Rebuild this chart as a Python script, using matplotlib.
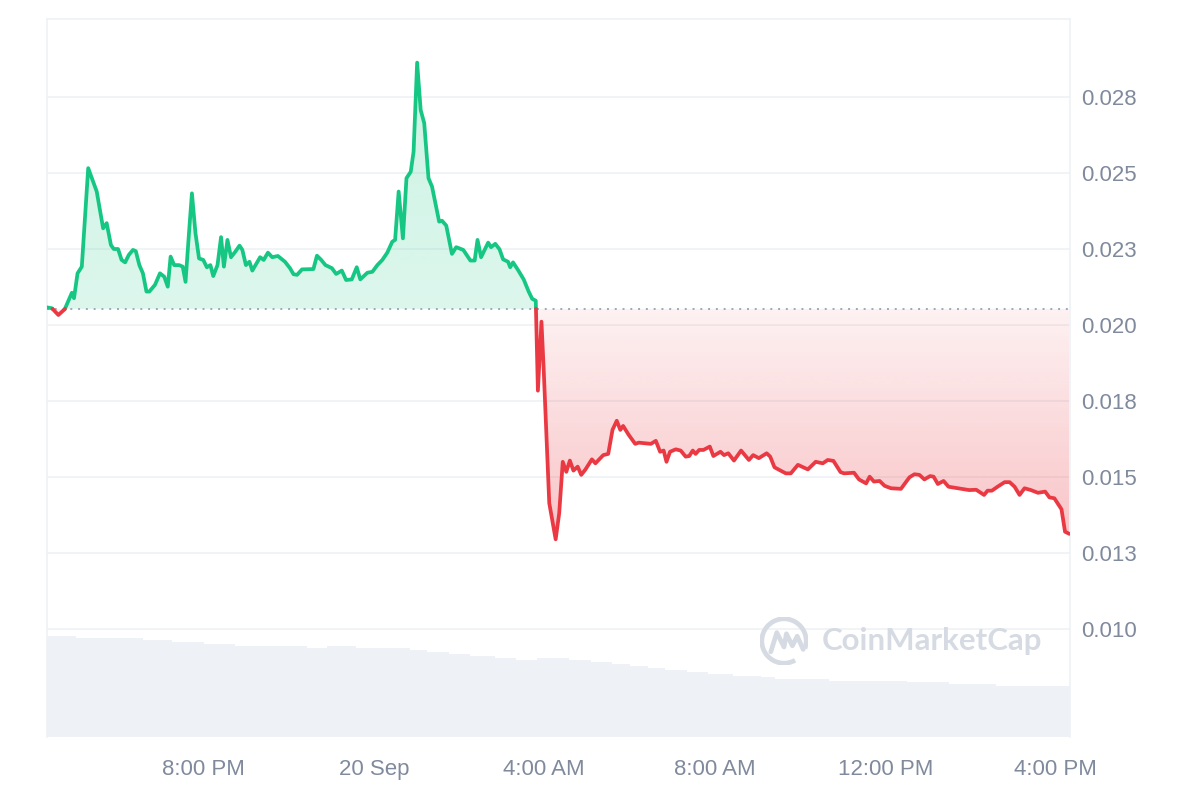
import numpy as np
import pandas as pd
import matplotlib
matplotlib.use("Agg")
import matplotlib.pyplot as plt
import matplotlib.dates as mdates
from matplotlib.path import Path
from matplotlib.patches import PathPatch, Arc
from matplotlib.colors import to_rgb

# Preisverlauf: Minuten ab Start (19 Sep 16:20) und Preis in USD
minutes = [0, 7, 16, 25, 35, 38, 43, 49, 58, 70, 79, 84, 90, 94, 100, 105, 110, 115, 121, 125,
           130, 135, 140, 144, 152, 159, 165, 170, 174, 179, 186, 191, 195, 200, 204, 209, 214,
           220, 225, 230, 234, 240, 245, 249, 254, 259, 265, 271, 275, 280, 285, 289, 300, 305,
           311, 317, 325, 335, 342, 347, 352, 359, 375, 380, 386, 392, 401, 407, 415, 421, 429,
           436, 441, 451, 458, 465, 472, 479, 486, 490, 495, 501, 506, 512, 516, 521, 526, 531,
           537, 542, 552, 556, 562, 570, 576, 586, 596, 602, 606, 611, 621, 625, 631, 637, 642,
           649, 652, 656, 663, 671, 678, 683, 688, 691, 696, 699, 707, 716, 721, 726, 731, 736,
           741, 747, 752, 758, 767, 772, 783, 790, 796, 802, 807, 811, 819, 828, 833, 850, 857,
           863, 868, 872, 877, 885, 892, 899, 904, 909, 913, 918, 924, 933, 938, 948, 953, 959,
           967, 977, 988, 994, 1002, 1013, 1018, 1024, 1031, 1040, 1047, 1057, 1071, 1082, 1092,
           1099, 1107, 1117, 1122, 1136, 1143, 1153, 1158, 1164, 1172, 1179, 1188, 1202, 1214,
           1221, 1228, 1235, 1243, 1248, 1254, 1262, 1269, 1277, 1287, 1298, 1308, 1319, 1324,
           1330, 1338, 1348, 1355, 1362, 1369, 1376, 1385, 1395, 1405, 1411, 1418, 1428, 1433,
           1439]
price = [0.02058, 0.02055, 0.02033, 0.02052, 0.02106, 0.02088, 0.02170, 0.02192, 0.02516,
         0.02439, 0.02318, 0.02335, 0.02263, 0.02250, 0.02250, 0.02214, 0.02206, 0.02230,
         0.02247, 0.02243, 0.02197, 0.02170, 0.02110, 0.02110, 0.02132, 0.02170, 0.02159,
         0.02126, 0.02225, 0.02197, 0.02197, 0.02192, 0.02142, 0.02307, 0.02433, 0.02302,
         0.02219, 0.02214, 0.02190, 0.02197, 0.02161, 0.02197, 0.02289, 0.02192, 0.02280,
         0.02223, 0.02241, 0.02261, 0.02247, 0.02197, 0.02208, 0.02179, 0.02223, 0.02214,
         0.02238, 0.02223, 0.02227, 0.02208, 0.02187, 0.02167, 0.02165, 0.02183, 0.02184,
         0.02228, 0.02214, 0.02197, 0.02187, 0.02168, 0.02179, 0.02148, 0.02150, 0.02190,
         0.02150, 0.02172, 0.02175, 0.02197, 0.02214, 0.02238, 0.02274, 0.02280, 0.02439,
         0.02285, 0.02483, 0.02504, 0.02570, 0.02863, 0.02707, 0.02664, 0.02483, 0.02455,
         0.02340, 0.02343, 0.02327, 0.02234, 0.02256, 0.02247, 0.02212, 0.02212, 0.02280,
         0.02223, 0.02271, 0.02256, 0.02267, 0.02249, 0.02216, 0.02208, 0.02190, 0.02206,
         0.02181, 0.02150, 0.02110, 0.02086, 0.02080, 0.01784, 0.02011, 0.01863, 0.01414,
         0.01295, 0.01381, 0.01550, 0.01517, 0.01554, 0.01521, 0.01534, 0.01507, 0.01525,
         0.01558, 0.01545, 0.01572, 0.01576, 0.01655, 0.01685, 0.01655, 0.01668, 0.01638,
         0.01609, 0.01613, 0.01609, 0.01619, 0.01583, 0.01587, 0.01550, 0.01583, 0.01591,
         0.01587, 0.01567, 0.01569, 0.01587, 0.01576, 0.01589, 0.01589, 0.01600, 0.01569,
         0.01583, 0.01572, 0.01578, 0.01554, 0.01587, 0.01556, 0.01572, 0.01562, 0.01578,
         0.01567, 0.01532, 0.01523, 0.01512, 0.01512, 0.01540, 0.01525, 0.01550, 0.01545,
         0.01556, 0.01553, 0.01516, 0.01512, 0.01514, 0.01492, 0.01479, 0.01501, 0.01485,
         0.01487, 0.01471, 0.01463, 0.01461, 0.01499, 0.01509, 0.01507, 0.01492, 0.01503,
         0.01501, 0.01477, 0.01487, 0.01468, 0.01465, 0.01461, 0.01457, 0.01458, 0.01441,
         0.01455, 0.01455, 0.01468, 0.01483, 0.01483, 0.01468, 0.01441, 0.01463, 0.01457,
         0.01448, 0.01452, 0.01433, 0.01430, 0.01394, 0.01320, 0.01313]
open_price = 0.02053

# Volumen (24h, gleitend) als Treppenstufen: Ende der Stufe in Minuten und Hoehe
vol_step_end = [37, 135, 171, 220, 262, 362, 393, 431, 507, 533, 564, 593, 629, 658, 689, 734,
                764, 793, 819, 844, 870, 899, 930, 965, 1005, 1023, 1099, 1209, 1266, 1332, 1440]
vol_step_level = [1010, 990, 970, 950, 930, 910, 890, 910, 890, 870, 850, 830, 810, 790, 770,
                  790, 770, 750, 730, 710, 690, 670, 650, 630, 610, 600, 580, 560, 550, 530, 510]

yticks = [0.0100, 0.0125, 0.0150, 0.0175, 0.0200, 0.0225, 0.0250, 0.0275]
ytick_labels = ["0.010", "0.013", "0.015", "0.018", "0.020", "0.023", "0.025", "0.028"]
xtick_times = ["2023-09-19 20:00", "2023-09-20 00:00", "2023-09-20 04:00",
               "2023-09-20 08:00", "2023-09-20 12:00", "2023-09-20 16:00"]
xtick_labels = ["8:00 PM", "20 Sep", "4:00 AM", "8:00 AM", "12:00 PM", "4:00 PM"]

GREEN = "#16c784"
RED = "#ea3943"
TEXT = "#808a9d"
GRID = "#eff2f5"

start = pd.Timestamp("2023-09-19 16:20")
t = mdates.date2num(start + pd.to_timedelta(minutes, unit="m"))
p = np.array(price)

# Schnittpunkte mit der Eroeffnungslinie einfuegen, damit die Farbe sauber wechselt
tt, pp = [t[0]], [p[0]]
for i in range(1, len(p)):
    a, b = p[i - 1] - open_price, p[i] - open_price
    if a * b < 0:
        f = a / (a - b)
        tt.append(t[i - 1] + f * (t[i] - t[i - 1]))
        pp.append(open_price)
    tt.append(t[i])
    pp.append(p[i])
tt, pp = np.array(tt), np.array(pp)

plt.rcParams["font.family"] = ["Liberation Sans", "DejaVu Sans"]
fig = plt.figure(figsize=(12, 8), dpi=100)
rect = [47 / 1200, 1 - 737 / 800, (1070 - 47) / 1200, (737 - 19) / 800]

# Volumen hinten
axv = fig.add_axes(rect)
bar_t = start + pd.to_timedelta(np.arange(0, 1440, 5), unit="m")
idx = np.searchsorted(vol_step_end, np.arange(0, 1440, 5), side="right")
idx = np.clip(idx, 0, len(vol_step_level) - 1)
vol = np.array(vol_step_level)[idx]
axv.bar(mdates.date2num(bar_t) + 2.5 / 1440, vol, width=5.6 / 1440, color="#eef1f5",
        linewidth=0)
axv.set_ylim(0, 7180)
axv.set_xlim(t[0], t[0] + 1.0)
axv.axis("off")

ax = fig.add_axes(rect)
ax.patch.set_visible(False)
ymin = 0.010 - (737 - 629) / 30400
ymax = 0.030 + 2 / 30400

for y in yticks:
    ax.axhline(y, color=GRID, lw=1.2, zorder=1)

# Gradientflaechen
def gradient_fill(mask_above, color, a_near, a_far, y_far):
    fb = ax.fill_between(tt, pp, open_price, where=mask_above, interpolate=True,
                         facecolor="none", edgecolor="none")
    paths = fb.get_paths()
    if not paths:
        return
    clip = PathPatch(Path.make_compound_path(*paths), facecolor="none", edgecolor="none",
                     transform=ax.transData)
    ax.add_patch(clip)
    rgb = to_rgb(color)
    n = 256
    img = np.zeros((n, 1, 4))
    img[:, 0, :3] = rgb
    img[:, 0, 3] = np.linspace(a_near, a_far, n)
    lo, hi = sorted([open_price, y_far])
    if y_far < open_price:
        img = img[::-1]
    im = ax.imshow(img, aspect="auto", extent=[tt[0], tt[-1], lo, hi], origin="lower",
                   zorder=2, interpolation="bilinear")
    im.set_clip_path(clip)

gradient_fill(pp >= open_price, GREEN, 0.15, 0.21, pp.max())
gradient_fill(pp <= open_price, RED, 0.07, 0.30, pp.min())
ax.set_ylim(ymin, ymax)
ax.set_xlim(t[0], t[0] + 1.0)

# Linie in zwei Farben
up = np.where(pp >= open_price, pp, np.nan)
dn = np.where(pp <= open_price, pp, np.nan)
ax.plot(tt, up, color=GREEN, lw=2.7, zorder=4, solid_joinstyle="round", solid_capstyle="round")
ax.plot(tt, dn, color=RED, lw=2.7, zorder=4, solid_joinstyle="round", solid_capstyle="round")
ax.plot([tt[0], tt[-1]], [open_price, open_price], color="#a1a7bb", lw=1.4,
        linestyle=(0, (1, 3)), zorder=3)

ax.yaxis.tick_right()
ax.set_yticks(yticks)
ax.set_yticklabels(ytick_labels)
ax.set_xticks(mdates.date2num(pd.to_datetime(xtick_times)))
ax.set_xticklabels(xtick_labels)
ax.tick_params(axis="y", length=0, pad=8, labelsize=16, labelcolor=TEXT)
ax.tick_params(axis="x", length=0, pad=16, labelsize=16, labelcolor=TEXT)
for side in ["left", "right", "top"]:
    ax.spines[side].set_color(GRID)
    ax.spines[side].set_linewidth(1.2)
ax.spines["bottom"].set_visible(False)

# Wasserzeichen
wm = "#d6dbe3"
fig.text(822 / 1200, 1 - 641 / 800, "CoinMarketCap", fontsize=22.5, color=wm,
         fontweight="bold", family=["Lato", "DejaVu Sans"], va="center", ha="left")
logo = fig.add_axes([760 / 1200, 1 - 665 / 800, 48 / 1200, 48 / 800])
logo.set_xlim(-1, 1)
logo.set_ylim(-1, 1)
logo.axis("off")
logo.add_patch(Arc((0, 0), 1.85, 1.85, theta1=-20, theta2=300, color=wm, lw=3.4))
logo.plot([-0.55, -0.3, 0.0, 0.1, 0.35, 0.55, 0.8], [-0.45, 0.35, -0.25, 0.3, -0.2, 0.2, -0.35],
          color=wm, lw=3.4, solid_joinstyle="round", solid_capstyle="round")

plt.savefig("out.png", dpi=100)
